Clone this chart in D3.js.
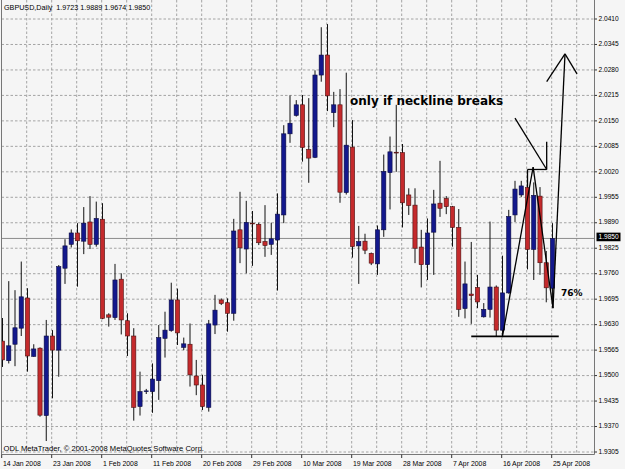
<!DOCTYPE html>
<html>
<head>
<meta charset="utf-8">
<script src="https://cdn.jsdelivr.net/npm/d3@7"></script>
<style>
body { margin: 0; background: #f5f5f5; }
svg { display: block; }
text { font-family: "Liberation Sans", Arial, sans-serif; fill: #000; }
</style>
</head>
<body>
<script>
// GBPUSD daily candles, 14 Jan - 25 Apr 2008 (ODL feed, Sunday bars included)
var symbol = "GBPUSD";
var period = "Daily";

var opens = [1.9588, 1.9538, 1.9580, 1.9621, 1.9698, 1.9549, 1.9570, 1.9398, 1.9601, 1.9565,
    1.9774, 1.9835, 1.9864, 1.9843, 1.9892, 1.9835, 1.9899, 1.9655, 1.9648, 1.9746,
    1.9640, 1.9601, 1.9421, 1.9459, 1.9459, 1.9487, 1.9595, 1.9615, 1.9693, 1.9572,
    1.9580, 1.9499, 1.9476, 1.9419, 1.9629, 1.9693, 1.9686, 1.9659, 1.9872, 1.9823,
    1.9889, 1.9886, 1.9842, 1.9835, 1.9846, 1.9910, 2.0117, 2.0164, 2.0191, 2.0077,
    2.0057, 2.0267, 2.0318, 2.0171, 2.0191, 1.9967, 2.0083, 1.9831, 1.9843, 1.9812,
    1.9785, 1.9872, 2.0018, 2.0070, 2.0069, 1.9961, 1.9935, 1.9828, 1.9783, 1.9866,
    1.9940, 1.9952, 1.9931, 1.9878, 1.9671, 1.9708, 1.9725, 1.9650, 1.9669, 1.9726,
    1.9616, 1.9711, 1.9910, 1.9961, 1.9980, 1.9822, 1.9958, 1.9788, 1.9723];
var highs = [1.9647, 1.9741, 1.9718, 1.9791, 1.9723, 1.9580, 1.9572, 1.9642, 1.9616, 1.9782,
    1.9848, 1.9873, 1.9889, 1.9930, 1.9958, 1.9944, 1.9940, 1.9659, 1.9785, 1.9761,
    1.9659, 1.9621, 1.9510, 1.9466, 1.9531, 1.9629, 1.9663, 1.9737, 1.9722, 1.9597,
    1.9633, 1.9540, 1.9502, 1.9642, 1.9706, 1.9697, 1.9697, 1.9900, 1.9969, 1.9946,
    1.9920, 1.9890, 1.9935, 1.9890, 1.9965, 2.0139, 2.0215, 2.0203, 2.0216, 2.0208,
    2.0279, 2.0389, 2.0397, 2.0224, 2.0231, 2.0273, 2.0152, 1.9882, 1.9862, 1.9814,
    1.9883, 2.0064, 2.0110, 2.0191, 2.0091, 1.9978, 1.9978, 1.9872, 1.9901, 1.9974,
    2.0048, 1.9958, 1.9933, 1.9925, 1.9791, 1.9841, 1.9757, 1.9685, 1.9893, 1.9730,
    1.9806, 1.9923, 1.9997, 1.9997, 2.0003, 1.9993, 1.9981, 1.9818, 1.9889];
var lows = [1.9522, 1.9531, 1.9524, 1.9601, 1.9510, 1.9548, 1.9395, 1.9333, 1.9442, 1.9497,
    1.9734, 1.9827, 1.9727, 1.9810, 1.9823, 1.9829, 1.9644, 1.9625, 1.9642, 1.9605,
    1.9550, 1.9385, 1.9398, 1.9453, 1.9405, 1.9438, 1.9546, 1.9612, 1.9578, 1.9565,
    1.9472, 1.9450, 1.9412, 1.9408, 1.9606, 1.9680, 1.9612, 1.9640, 1.9787, 1.9761,
    1.9780, 1.9833, 1.9803, 1.9808, 1.9717, 1.9889, 2.0094, 2.0161, 2.0046, 1.9992,
    2.0055, 2.0250, 2.0175, 2.0134, 1.9941, 1.9962, 1.9801, 1.9734, 1.9810, 1.9782,
    1.9757, 1.9854, 1.9924, 2.0020, 1.9878, 1.9910, 1.9787, 1.9725, 1.9744, 1.9757,
    1.9905, 1.9912, 1.9829, 1.9650, 1.9646, 1.9632, 1.9672, 1.9648, 1.9648, 1.9599,
    1.9598, 1.9709, 1.9892, 1.9956, 1.9771, 1.9744, 1.9757, 1.9687, 1.9674];
var closes = [1.9540, 1.9576, 1.9622, 1.9701, 1.9550, 1.9568, 1.9399, 1.9601, 1.9565, 1.9778,
    1.9831, 1.9864, 1.9844, 1.9889, 1.9835, 1.9901, 1.9646, 1.9649, 1.9744, 1.9642,
    1.9601, 1.9419, 1.9459, 1.9461, 1.9491, 1.9597, 1.9616, 1.9693, 1.9609, 1.9581,
    1.9502, 1.9476, 1.9421, 1.9632, 1.9667, 1.9684, 1.9659, 1.9869, 1.9826, 1.9891,
    1.9888, 1.9839, 1.9832, 1.9849, 1.9912, 2.0117, 2.0144, 2.0191, 2.0082, 2.0055,
    2.0267, 2.0318, 2.0214, 2.0191, 1.9968, 2.0088, 1.9829, 1.9842, 1.9820, 1.9787,
    1.9872, 2.0021, 2.0071, 2.0069, 1.9941, 1.9934, 1.9825, 1.9783, 1.9864, 1.9938,
    1.9927, 1.9931, 1.9878, 1.9669, 1.9734, 1.9704, 1.9688, 1.9669, 1.9726, 1.9616,
    1.9711, 1.9906, 1.9976, 1.9984, 1.9822, 1.9960, 1.9788, 1.9724, 1.9850];

// Price scale labels (right side)
var priceTicks = [2.0410, 2.0345, 2.0280, 2.0215, 2.0150, 2.0085, 2.0020, 1.9955, 1.9890,
    1.9825, 1.9760, 1.9695, 1.9630, 1.9565, 1.9500, 1.9435, 1.9370, 1.9305];

// Date labels and the bar they sit on
var dateLabels = ["14 Jan 2008", "23 Jan 2008", "1 Feb 2008", "11 Feb 2008", "20 Feb 2008",
    "29 Feb 2008", "10 Mar 2008", "19 Mar 2008", "28 Mar 2008", "7 Apr 2008",
    "16 Apr 2008", "25 Apr 2008"];
var dateBars = [0, 8, 16, 24, 32, 40, 48, 56, 64, 72, 80, 88];

// Hand drawn lines, [bar, price] pairs
var drawnLines = [
    [[75, 1.9600], [89, 1.9600]],
    [[80, 1.9600], [84.9, 2.0032]],
    [[84.9, 2.0032], [88.08, 1.9672]],
    [[84, 2.0026], [87.07, 2.0026]],
    [[84, 2.0026], [84, 1.9982]],
    [[87.07, 2.0097], [87.07, 2.0026]],
    [[82, 2.0157], [87.07, 2.0026]],
    [[88.08, 1.9672], [90, 2.0321]],
    [[87.07, 2.0250], [90, 2.0321]],
    [[90, 2.0321], [91.92, 2.0270]]
];
var drawnTexts = [
    {text: "only if neckline breaks", bar: 55.6, price: 2.0191, size: 12},
    {text: "76%", bar: 89.35, price: 1.9703, size: 9}
];

// Setup
var w = 625;
var h = 469;
var left = 1.5, right = 594.5, bottom = 454.5;

var x = d3.scaleLinear().domain([0, 88]).range([2.5, 552.5]);
var y = d3.scaleLinear().domain([1.9305, 2.0410]).range([452, 19]);

var svg = d3.select("body").append("svg")
    .attr("width", w)
    .attr("height", h);

svg.append("rect")
    .attr("width", w)
    .attr("height", h)
    .attr("fill", "#f5f5f5");

svg.append("clipPath")
    .attr("id", "plot")
    .append("rect")
    .attr("x", left + 0.5)
    .attr("y", 0)
    .attr("width", right - left - 1)
    .attr("height", bottom);

var plot = svg.append("g").attr("clip-path", "url(#plot)");

// Grid
plot.selectAll("line.hgrid")
    .data(priceTicks)
    .enter()
    .append("line")
    .attr("class", "hgrid")
    .attr("x1", left)
    .attr("x2", right)
    .attr("y1", function(d) { return y(d); })
    .attr("y2", function(d) { return y(d); })
    .attr("stroke", "#a4a4a4")
    .attr("stroke-dasharray", "2.5,2");

plot.selectAll("line.vgrid")
    .data(d3.range(4, 96, 4))
    .enter()
    .append("line")
    .attr("class", "vgrid")
    .attr("x1", function(d) { return x(d) - 0.8; })
    .attr("x2", function(d) { return x(d) - 0.8; })
    .attr("y1", 0)
    .attr("y2", bottom)
    .attr("stroke", "#a4a4a4")
    .attr("stroke-dasharray", "2.5,2");

// Bid line
var last = closes[closes.length - 1];
plot.append("line")
    .attr("x1", left)
    .attr("x2", right)
    .attr("y1", y(last))
    .attr("y2", y(last))
    .attr("stroke", "#8c8c8c")
    .attr("stroke-width", 1);

// Candles
var candles = opens.map(function(o, i) {
    return {i: i, o: o, h: highs[i], l: lows[i], c: closes[i]};
});

plot.selectAll("line.wick")
    .data(candles)
    .enter()
    .append("line")
    .attr("class", "wick")
    .attr("x1", function(d) { return x(d.i); })
    .attr("x2", function(d) { return x(d.i); })
    .attr("y1", function(d) { return y(d.h); })
    .attr("y2", function(d) { return y(d.l); })
    .attr("stroke", "#111")
    .attr("stroke-width", 1);

plot.selectAll("rect.body")
    .data(candles)
    .enter()
    .append("rect")
    .attr("class", "body")
    .attr("x", function(d) { return x(d.i) - 2.1; })
    .attr("width", 4.2)
    .attr("y", function(d) { return y(Math.max(d.o, d.c)); })
    .attr("height", function(d) {
        return Math.max(0.8, Math.abs(y(d.o) - y(d.c)));
    })
    .attr("fill", function(d) { return d.c >= d.o ? "#13188c" : "#c42a2c"; })
    .attr("stroke", function(d) { return d.c >= d.o ? "#0a0a40" : "#4a1010"; })
    .attr("stroke-width", 0.6);

// Drawn objects
plot.selectAll("line.drawn")
    .data(drawnLines)
    .enter()
    .append("line")
    .attr("class", "drawn")
    .attr("x1", function(d) { return x(d[0][0]); })
    .attr("y1", function(d) { return y(d[0][1]); })
    .attr("x2", function(d) { return x(d[1][0]); })
    .attr("y2", function(d) { return y(d[1][1]); })
    .attr("stroke", "#000")
    .attr("stroke-width", function(d, i) { return i === 0 ? 1.7 : 1.3; });

svg.selectAll("text.drawn")
    .data(drawnTexts)
    .enter()
    .append("text")
    .attr("class", "drawn")
    .attr("x", function(d) { return x(d.bar); })
    .attr("y", function(d) { return y(d.price); })
    .style("font-family", "'DejaVu Sans', sans-serif")
    .style("font-weight", "bold")
    .style("font-size", function(d) { return d.size + "px"; })
    .text(function(d) { return d.text; });

// Frame
svg.append("path")
    .attr("d", "M" + left + ",0V" + bottom + "H" + right + "V0")
    .attr("fill", "none")
    .attr("stroke", "#777")
    .attr("stroke-width", 1);

// Price axis
svg.selectAll("line.ptick")
    .data(priceTicks)
    .enter()
    .append("line")
    .attr("class", "ptick")
    .attr("x1", right)
    .attr("x2", right + 2.5)
    .attr("y1", function(d) { return y(d); })
    .attr("y2", function(d) { return y(d); })
    .attr("stroke", "#333");

svg.selectAll("text.plabel")
    .data(priceTicks)
    .enter()
    .append("text")
    .attr("class", "plabel")
    .attr("x", right + 4)
    .attr("y", function(d) { return y(d) + 1.7; })
    .style("font-size", "6.6px")
    .text(function(d) { return d.toFixed(4); });

svg.append("rect")
    .attr("x", right + 2)
    .attr("y", y(last) - 5.8)
    .attr("width", 24)
    .attr("height", 8.6)
    .attr("fill", "#000");

svg.append("text")
    .attr("x", right + 4)
    .attr("y", y(last) + 0.6)
    .style("font-size", "6.6px")
    .style("fill", "#fff")
    .text(last.toFixed(4));

// Time axis
svg.selectAll("line.ttick")
    .data(dateBars)
    .enter()
    .append("line")
    .attr("class", "ttick")
    .attr("x1", function(d) { return x(d) - 0.8; })
    .attr("x2", function(d) { return x(d) - 0.8; })
    .attr("y1", bottom)
    .attr("y2", bottom + 3.5)
    .attr("stroke", "#333");

svg.selectAll("text.tlabel")
    .data(dateLabels)
    .enter()
    .append("text")
    .attr("class", "tlabel")
    .attr("x", function(d, i) { return x(dateBars[i]) + 0.4; })
    .attr("y", 465.5)
    .style("font-size", "6.9px")
    .text(function(d) { return d; });

// Header and copyright
var lastBar = candles[candles.length - 1];
svg.append("text")
    .attr("x", 4)
    .attr("y", 10)
    .style("font-size", "7.2px")
    .attr("xml:space", "preserve")
    .text(symbol + "," + period + "  " + [lastBar.o, lastBar.h, lastBar.l, lastBar.c]
        .map(function(v) { return v.toFixed(4); }).join(" "));

svg.append("text")
    .attr("x", 3.5)
    .attr("y", 451)
    .style("font-size", "7.6px")
    .text("ODL MetaTrader, \u00a9 2001-2008 MetaQuotes Software Corp.");
</script>
</body>
</html>
